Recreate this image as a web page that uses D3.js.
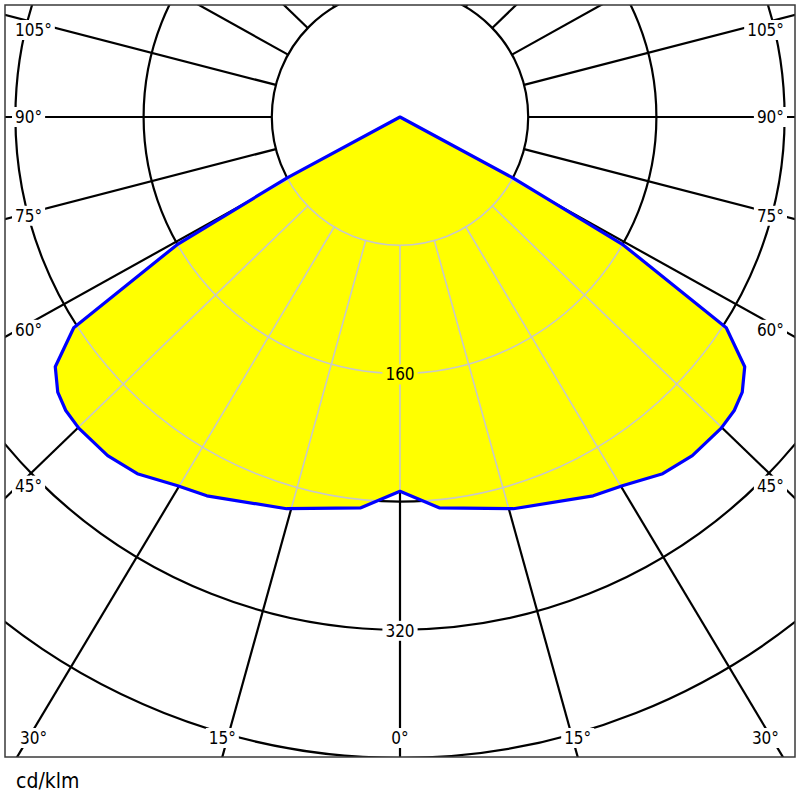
<!DOCTYPE html>
<html lang="en">
<head>
    <meta charset="UTF-8"/>
    <title>Luminous intensity distribution</title>
    <script src="https://d3js.org/d3.v7.min.js"></script>
    <style>
        body { margin: 0; background: #fff; }
        text { font-family: "DejaVu Sans Condensed", "DejaVu Sans", Verdana, sans-serif; font-stretch: condensed; }
    </style>
</head>
<body>
<script>
    // intensity curve in cd/klm (same on both halves)
    var gammaAngles = [0, 5.6, 15.6, 26.2, 30.3, 35.4, 39.8, 44.9, 47.7, 50.2, 53.1, 56.2, 59.3, 60.8, 62, 90];
    var intensity   = [242, 254, 263, 273, 276, 283, 285, 284, 282, 278, 269, 245, 162, 81, 0, 0];

    var circleValues = [80, 160, 240, 320, 400];
    var circleLabels = [160, 320];
    var rayAngles = [0, 15, 30, 45, 60, 75, 90, 105, 120, 135, 150, 165, 180];
    var bottomLabels = [0, 15, 30];
    var sideLabels = [45, 60, 75, 90, 105];
    var unitLabel = "cd/klm";

    var w = 800, h = 800;
    // note: "top" is taken by window.top, so the frame gets its own names
    var frameL = 5, frameT = 5, frameR = 795, frameB = 757;
    var cx = 400, cy = 117;
    var k = 0.965;          // rays are a little flatter than the rings
    var rad = Math.PI / 180;
    var labelSize = 17;

    var rScale = d3.scaleLinear().domain([0, 400]).range([0, 641]);

    function toXY(g, v, side) {
        var r = rScale(v);
        return [cx + side * r * Math.sin(g * rad), cy + r * k * Math.cos(g * rad)];
    }

    var curve = gammaAngles.map(function(g, i) { return toXY(g, intensity[i], -1); }).reverse()
        .concat(gammaAngles.map(function(g, i) { return toXY(g, intensity[i], 1); }));

    // rays start on the innermost ring
    var rays = [];
    rayAngles.forEach(function(g) {
        [-1, 1].forEach(function(side) {
            if (side == -1 && (g == 0 || g == 180)) return;
            var ux = side * Math.sin(g * rad), uy = k * Math.cos(g * rad);
            var n = Math.sqrt(ux * ux + uy * uy);
            ux /= n; uy /= n;
            var r0 = rScale(circleValues[0]);
            rays.push({x1: cx + ux * r0, y1: cy + uy * r0, x2: cx + ux * 1500, y2: cy + uy * 1500});
        });
    });

    var svg = d3.select("body").append("svg")
        .attr("width", w)
        .attr("height", h);

    var defs = svg.append("defs");
    defs.append("clipPath").attr("id", "frameClip")
        .append("rect")
        .attr("x", frameL).attr("y", frameT)
        .attr("width", frameR - frameL).attr("height", frameB - frameT);
    defs.append("clipPath").attr("id", "curveClip")
        .append("path")
        .attr("d", d3.line()(curve) + "Z");

    function drawGrid(g, color, width) {
        g.selectAll("circle")
            .data(circleValues)
            .enter()
            .append("circle")
            .attr("cx", cx)
            .attr("cy", cy)
            .attr("r", function(d) { return rScale(d); })
            .attr("fill", "none")
            .attr("stroke", color)
            .attr("stroke-width", width);
        g.selectAll("line")
            .data(rays)
            .enter()
            .append("line")
            .attr("x1", function(d) { return d.x1; })
            .attr("y1", function(d) { return d.y1; })
            .attr("x2", function(d) { return d.x2; })
            .attr("y2", function(d) { return d.y2; })
            .attr("stroke", color)
            .attr("stroke-width", width);
    }

    drawGrid(svg.append("g").attr("clip-path", "url(#frameClip)"), "#000", 2.2);

    function boxedLabel(str, x, y, anchor, fill, size) {
        var g = svg.append("g");
        var rect = g.append("rect").attr("fill", fill);
        var t = g.append("text")
            .text(str)
            .attr("x", x)
            .attr("y", y)
            .attr("text-anchor", anchor)
            .attr("dominant-baseline", "central")
            .attr("fill", "#000")
            .style("font-size", size + "px");
        var b = t.node().getBBox();
        rect.attr("x", b.x - 3).attr("y", b.y)
            .attr("width", b.width + 6).attr("height", b.height);
        return t;
    }

    // angle labels along the frame
    sideLabels.forEach(function(g) {
        var y = cy + 382 * k * Math.cos(g * rad) / Math.sin(g * rad);
        y = Math.max(30, Math.min(738, y));
        boxedLabel(g + "°", 15, y, "start", "#fff", labelSize);
        boxedLabel(g + "°", 784, y, "end", "#fff", labelSize);
    });
    bottomLabels.forEach(function(g) {
        var dx = (frameB - cy) * Math.tan(g * rad) / k;
        [-1, 1].forEach(function(side) {
            if (side == -1 && g == 0) return;
            var t = boxedLabel(g + "°", cx + side * dx, 738, "middle", "#fff", labelSize);
            var half = t.node().getComputedTextLength() / 2;
            var x = Math.max(20 + half, Math.min(779 - half, cx + side * dx));
            t.attr("x", x);
            var b = t.node().getBBox();
            d3.select(t.node().parentNode).select("rect").attr("x", b.x - 3);
        });
    });

    svg.append("path")
        .attr("d", d3.line()(curve) + "Z")
        .attr("fill", "#ffff00")
        .attr("stroke", "none");

    drawGrid(svg.append("g").attr("clip-path", "url(#curveClip)"), "#c8c8c8", 1.6);

    circleLabels.forEach(function(v) {
        var y = cy + rScale(v) + 1;
        var fill = d3.polygonContains(curve, [cx, y]) ? "#ffff00" : "#fff";
        boxedLabel(v, cx, y, "middle", fill, labelSize);
    });

    svg.append("path")
        .attr("d", d3.line()(curve) + "Z")
        .attr("fill", "none")
        .attr("stroke", "#0000ff")
        .attr("stroke-width", 3.2)
        .attr("stroke-linejoin", "round");

    svg.append("rect")
        .attr("x", frameL)
        .attr("y", frameT)
        .attr("width", frameR - frameL)
        .attr("height", frameB - frameT)
        .attr("fill", "none")
        .attr("stroke", "#3a3a3a")
        .attr("stroke-width", 1.5);

    svg.append("text")
        .text(unitLabel)
        .attr("x", 16)
        .attr("y", 788)
        .attr("fill", "#000")
        .style("font-size", "21px");
</script>
</body>
</html>
